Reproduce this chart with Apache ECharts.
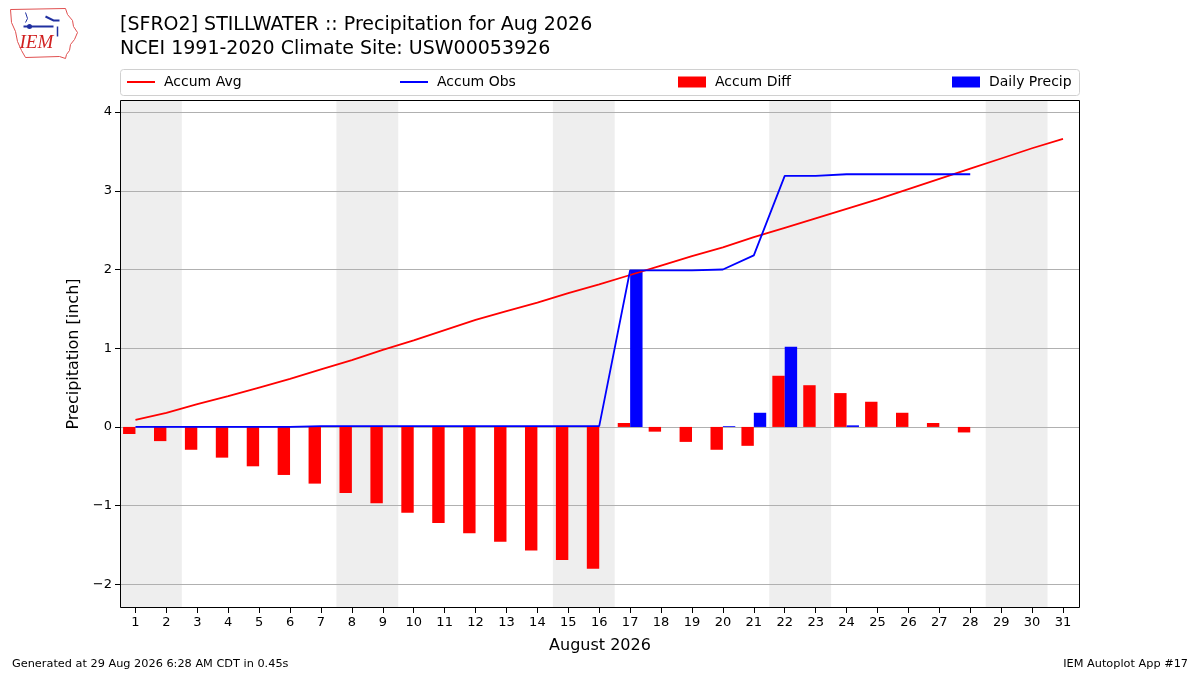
<!DOCTYPE html>
<html>
<head>
<meta charset="utf-8">
<script src="https://cdn.jsdelivr.net/npm/echarts@6/dist/echarts.min.js"></script>
<style>html,body{margin:0;padding:0;background:#fff}#c{width:1200px;height:675px}</style>
</head>
<body>
<div id="c"></div>
<script>
const days = [1,2,3,4,5,6,7,8,9,10,11,12,13,14,15,16,17,18,19,20,21,22,23,24,25,26,27,28,29,30,31];
const accumAvg = [0.09,0.18,0.29,0.39,0.50,0.61,0.73,0.85,0.98,1.10,1.23,1.36,1.47,1.58,1.70,1.81,1.93,2.05,2.17,2.28,2.41,2.53,2.65,2.77,2.89,3.02,3.15,3.28,3.41,3.54,3.66];
const obsDays = [1,2,3,4,5,6,7,8,9,10,11,12,13,14,15,16,17,18,19,20,21,22,23,24,25,26,27,28];
const accumObs = [0,0,0,0,0,0,0.01,0.01,0.01,0.01,0.01,0.01,0.01,0.01,0.01,0.01,1.99,1.99,1.99,2.00,2.18,3.19,3.19,3.21,3.21,3.21,3.21,3.21];
const accumDiff = [-0.09,-0.18,-0.29,-0.39,-0.50,-0.61,-0.72,-0.84,-0.97,-1.09,-1.22,-1.35,-1.46,-1.57,-1.69,-1.80,0.05,-0.06,-0.19,-0.29,-0.24,0.65,0.53,0.43,0.32,0.18,0.05,-0.07];
const precipDays = [17,20,21,22,24];
const dailyPrecip = [1.99,0.01,0.18,1.02,0.02];
const weekends = [[0.5,2.5],[7.5,9.5],[14.5,16.5],[21.5,23.5],[28.5,30.5]];
const yTicks = [-2,-1,0,1,2,3,4];

const chart = echarts.init(document.getElementById('c'));
const font = 'DejaVu Sans';
const fmtMinus = v => String(v).replace('-', '\u2212');

const legendBase = (name, left, icon, h) => ({
  data: [{name: name, icon: icon}],
  left: left, top: 70, itemWidth: 28, itemHeight: h,
  textStyle: {fontFamily: font, fontSize: 14, color: '#000', padding: [0,0,0,4]},
  selectedMode: false
});

chart.setOption({
  animation: false,
  textStyle: {fontFamily: font},
  grid: {left: 120, top: 100, right: 120, bottom: 67, show: false},
  title: [
    {text: '[SFRO2] STILLWATER :: Precipitation for Aug 2026', left: 115, top: 11, textStyle: {fontFamily: font, fontSize: 19, fontWeight: 'normal', color: '#000'}},
    {text: 'NCEI 1991-2020 Climate Site: USW00053926', left: 115, top: 35, textStyle: {fontFamily: font, fontSize: 19, fontWeight: 'normal', color: '#000'}}
  ],
  legend: [
    legendBase('Accum Avg', 122, 'rect', 2),
    legendBase('Accum Obs', 395, 'rect', 2),
    legendBase('Accum Diff', 673, 'rect', 11),
    legendBase('Daily Precip', 947, 'rect', 11)
  ],
  xAxis: {
    type: 'value', min: 0.5, max: 31.55,
    name: 'August 2026', nameLocation: 'middle', nameGap: 30,
    nameTextStyle: {fontFamily: font, fontSize: 16, color: '#000'},
    axisLine: {show: false, onZero: false},
    axisTick: {show: true, customValues: days, length: 5, lineStyle: {color: '#000'}},
    axisLabel: {customValues: days, fontFamily: font, fontSize: 13, color: '#000', margin: 8},
    splitLine: {show: false}
  },
  yAxis: {
    type: 'value', min: -2.3, max: 4.153,
    name: 'Precipitation [inch]', nameLocation: 'middle', nameGap: 38,
    nameTextStyle: {fontFamily: font, fontSize: 16, color: '#000'},
    axisLine: {show: false, onZero: false},
    axisTick: {show: true, customValues: yTicks, length: 5, lineStyle: {color: '#000'}},
    axisLabel: {customValues: yTicks, fontFamily: font, fontSize: 13, color: '#000', margin: 8, formatter: fmtMinus},
    splitLine: {show: false}
  },
  series: [
    {
      type: 'line', name: '_bg', data: days.map((d,i)=>[d, accumAvg[i]]), z: -1,
      symbol: 'none', lineStyle: {opacity: 0}, silent: true, legendHoverLink: false,
      markArea: {silent: true, z: -2, itemStyle: {color: '#eeeeee'}, data: weekends.map(w => [{xAxis: w[0]}, {xAxis: w[1]}])},
      markLine: {silent: true, z: -1, symbol: 'none', label: {show: false}, lineStyle: {color: '#b0b0b0', width: 1, type: 'solid'},
        emphasis: {disabled: true}, data: yTicks.map(v => ({yAxis: v}))}
    },
    {
      type: 'bar', name: 'Accum Diff', data: obsDays.map((d,i)=>[d, accumDiff[i]]),
      barWidth: 12.4, barGap: '0%', itemStyle: {color: '#ff0000'}, z: 3
    },
    {
      type: 'bar', name: 'Daily Precip', data: precipDays.map((d,i)=>[d, dailyPrecip[i]]),
      barWidth: 12.4, barGap: '0%', itemStyle: {color: '#0000ff'}, z: 3
    },
    {
      type: 'line', name: 'Accum Avg', data: days.map((d,i)=>[d, accumAvg[i]]),
      symbol: 'none', lineStyle: {color: '#ff0000', width: 1.8}, itemStyle: {color: '#ff0000'}, z: 4
    },
    {
      type: 'line', name: 'Accum Obs', data: obsDays.map((d,i)=>[d, accumObs[i]]),
      symbol: 'none', lineStyle: {color: '#0000ff', width: 1.8}, itemStyle: {color: '#0000ff'}, z: 5
    }
  ],
  graphic: [
    {type: 'rect', shape: {x: 120.5, y: 69.5, width: 959, height: 26, r: 3}, style: {fill: 'rgba(255,255,255,0.8)', stroke: '#d0d0d0', lineWidth: 1}, z: -10},
    {type: 'rect', shape: {x: 120.5, y: 100.5, width: 959, height: 507}, style: {fill: 'none', stroke: '#000', lineWidth: 1}, z: 100},
    {type: 'text', left: 12, top: 659, style: {text: 'Generated at 29 Aug 2026 6:28 AM CDT in 0.45s', fontFamily: font, fontSize: 11.3, fill: '#000'}},
    {type: 'text', right: 12, top: 659, style: {text: 'IEM Autoplot App #17', fontFamily: font, fontSize: 11.3, fill: '#000'}},
    {type: 'group', left: 8, top: 6, children: [
      {type: 'polyline', shape: {points: [[3,3],[58,2],[60,8],[65,14],[66,20],[70,26],[67,33],[63,38],[62,44],[59,48],[58,52],[52,50],[18,51],[14,44],[10,35],[8,25],[4,16],[3,3]]}, style: {stroke: '#e05050', fill: 'none', lineWidth: 1}},
      {type: 'polyline', shape: {points: [[16,20],[46,20]]}, style: {stroke: '#2030a0', lineWidth: 2}},
      {type: 'circle', shape: {cx: 22, cy: 20, r: 2.5}, style: {fill: '#2030a0'}},
      {type: 'polyline', shape: {points: [[38,10],[46,14],[52,14]]}, style: {stroke: '#2030a0', lineWidth: 2, fill: 'none'}},
      {type: 'polyline', shape: {points: [[50,20],[50,30]]}, style: {stroke: '#2030a0', lineWidth: 1.5}},
      {type: 'polyline', shape: {points: [[18,6],[20,12],[18,16]]}, style: {stroke: '#2030a0', lineWidth: 1, fill: 'none'}},
      {type: 'text', x: 12, y: 27, style: {text: 'IEM', fontFamily: 'Liberation Serif', fontStyle: 'italic', fontSize: 19, fill: '#d02020'}}
    ]}
  ]
});
</script>
</body>
</html>
